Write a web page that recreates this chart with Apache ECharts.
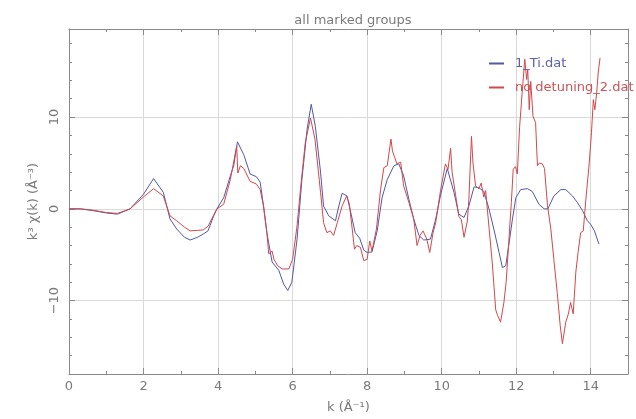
<!DOCTYPE html>
<html>
<head>
<meta charset="utf-8">
<script src="https://cdn.jsdelivr.net/npm/echarts@6/dist/echarts.min.js"></script>
<style>
  html, body { margin: 0; padding: 0; background: #fff; }
  #chart { width: 636px; height: 419px; }
</style>
</head>
<body>
<div id="chart"></div>
<script>
// k grid (1/Å) and k^3-weighted chi(k) for group 1_Ti.dat
const kTi = [
  0, 0.3, 0.65, 1.0, 1.3, 1.64, 2.0, 2.27, 2.53, 2.71,
  2.89, 3.1, 3.25, 3.45, 3.6, 3.73, 3.88, 3.97, 4.15, 4.33,
  4.42, 4.52, 4.69, 4.86, 5.03, 5.13, 5.22, 5.31, 5.45, 5.63,
  5.76, 5.87, 5.98, 6.12, 6.25, 6.39, 6.5, 6.61, 6.75, 6.83,
  6.97, 7.15, 7.24, 7.33, 7.46, 7.55, 7.68, 7.8, 7.91, 8.0,
  8.13, 8.27, 8.4, 8.54, 8.72, 8.85, 8.98, 9.12, 9.25, 9.39,
  9.52, 9.7, 9.84, 9.97, 10.15, 10.33, 10.46, 10.6, 10.73, 10.87,
  11.0, 11.13, 11.27, 11.4, 11.54, 11.63, 11.72, 11.8, 11.9, 11.99,
  12.12, 12.3, 12.43, 12.61, 12.75, 12.85, 13.01, 13.2, 13.33, 13.51,
  13.64, 13.78, 13.91, 14.0, 14.1, 14.22
];
const chiTi = [
  0, 0, -0.2, -0.45, -0.58, 0, 1.6, 3.3, 1.8, -1.1,
  -2.2, -3.1, -3.4, -3.1, -2.75, -2.4, -0.8, 0, 1.2, 3.6,
  4.7, 7.3, 5.9, 3.8, 3.5, 2.9, 0.3, -2.6, -5.8, -6.7,
  -8.2, -8.9, -8.0, -3.3, 3.2, 8.7, 11.4, 9.0, 4.0, 0.3,
  -0.76, -1.3, 0.3, 1.7, 1.4, -0.2, -2.6, -3.2, -4.5, -4.75,
  -4.7, -2.4, 1.2, 3.2, 4.7, 4.9, 3.6, 1.05, -1.1, -2.9,
  -3.4, -3.3, -1.1, 1.5, 4.4, 1.8, -0.58, -0.94, 0.3, 2.4,
  2.3, 1.9, 0, -2.2, -4.75, -6.4, -6.2, -4.0, -1.1, 1.2,
  2.1, 2.2, 1.9, 0.5, 0, 0, 1.4, 2.1, 2.1, 1.4,
  0.7, -0.2, -1.3, -1.7, -2.4, -3.85
];

// k grid and k^3-weighted chi(k) for group no detuning_2.dat
const kDet = [
  0, 0.3, 0.65, 1.0, 1.3, 1.64, 2.0, 2.27, 2.53, 2.71,
  2.89, 3.1, 3.25, 3.45, 3.6, 3.73, 3.88, 3.97, 4.15, 4.33,
  4.5, 4.53, 4.6, 4.69, 4.86, 5.03, 5.13, 5.22, 5.31, 5.36,
  5.45, 5.5, 5.6, 5.72, 5.9, 6.0, 6.12, 6.21, 6.34, 6.48,
  6.6, 6.75, 6.83, 6.92, 7.01, 7.1, 7.2, 7.33, 7.45, 7.52,
  7.6, 7.66, 7.72, 7.82, 7.91, 8.0, 8.07, 8.13, 8.25, 8.36,
  8.45, 8.54, 8.64, 8.68, 8.8, 8.9, 8.98, 9.12, 9.25, 9.34,
  9.42, 9.5, 9.6, 9.68, 9.77, 9.84, 9.97, 10.1, 10.17, 10.24,
  10.28, 10.37, 10.46, 10.53, 10.6, 10.69, 10.73, 10.8, 10.84, 10.91,
  11.0, 11.06, 11.13, 11.18, 11.27, 11.36, 11.45, 11.5, 11.58, 11.67,
  11.73, 11.8, 11.87, 11.92, 11.98, 12.03, 12.09, 12.16, 12.23, 12.28,
  12.31, 12.35, 12.39, 12.45, 12.52, 12.57, 12.62, 12.7, 12.76, 12.84,
  12.93, 13.01, 13.1, 13.18, 13.24, 13.33, 13.4, 13.46, 13.53, 13.6,
  13.66, 13.73, 13.8, 13.87, 13.96, 14.02, 14.07, 14.11, 14.16, 14.2,
  14.25
];
const chiDet = [
  0, 0, -0.15, -0.4, -0.5, 0, 1.3, 2.2, 1.4, -0.76,
  -1.3, -2.0, -2.4, -2.35, -2.3, -1.9, -0.7, 0, 0.5, 3.2,
  6.85, 3.9, 4.7, 4.4, 3.0, 2.7, 2.1, 0.3, -2.6, -4.9,
  -4.6, -5.5, -6.2, -6.55, -6.55, -5.5, -1.85, 2.1, 7.2, 9.9,
  7.6, 1.8, -1.5, -2.6, -2.4, -2.9, -1.5, 0.33, 1.4, 0.6,
  -2.2, -4.4, -4.0, -4.2, -5.65, -5.5, -3.5, -4.6, -2.2, 2.1,
  4.5, 4.7, 7.6, 6.3, 4.9, 5.1, 2.5, 0.7, -1.1, -4.0,
  -2.9, -2.4, -3.3, -4.75, -2.6, -1.5, 2.0, 4.9, 4.3, 6.6,
  4.0, 1.6, -0.8, -1.2, -3.1, -1.3, 1.0, 7.9, 5.0, 2.5,
  2.2, 2.8, 1.3, 2.0, -2.0, -6.0, -11.0, -11.6, -12.35, -10.2,
  -8.0, -3.65, 0.7, 4.3, 4.6, 3.8, 8.85, 12.65, 16.3, 14.1,
  15.2, 10.8, 13.9, 10.1, 9.4, 4.7, 5.0, 4.9, 4.4, 0.35,
  -2.2, -5.5, -9.1, -12.7, -14.7, -12.35, -11.45, -10.2, -11.45, -6.9,
  -4.75, -2.6, -2.4, 1.05, 5.0, 8.3, 11.9, 10.8, 12.65, 14.8,
  16.45
];

const seriesNames = ['1_Ti.dat', 'no detuning_2.dat'];
const yMajorTicks = [-10, 0, 10];
const xMajorTicks = [0, 2, 4, 6, 8, 10, 12, 14];

const BLUE = '#5058a8';
const RED = '#d2484a';
const TEXT = '#7a7a7a';
const FRAME = '#8a8a8a';
const GRID = '#d9d9d9';
const FONT = 'DejaVu Sans';

const toPairs = (xs, ys) => xs.map((x, i) => [x, ys[i]]);

const Y_MIN = -18, Y_MAX = 19.6;

const frameLine = { show: true, onZero: false, lineStyle: { color: FRAME, width: 1 } };

// overlay axes that only carry the longer major ticks on the y frame
const majorTickAxisY = (position) => ({
  type: 'value', min: Y_MIN, max: Y_MAX, position: position,
  axisLine: { show: false, onZero: false },
  axisTick: { show: true, inside: true, length: 6, customValues: yMajorTicks,
              lineStyle: { color: FRAME, width: 1 } },
  axisLabel: { show: false },
  splitLine: { show: false }
});

const chart = echarts.init(document.getElementById('chart'), null, { renderer: 'canvas' });
chart.setOption({
  animation: false,
  backgroundColor: '#fff',
  title: {
    text: 'all marked groups',
    left: 348, top: 9, textAlign: 'center',
    textStyle: { color: TEXT, fontFamily: FONT, fontSize: 13, fontWeight: 'normal' }
  },
  legend: {
    orient: 'vertical',
    left: 488, top: 57,
    padding: 0,
    itemGap: 11,
    itemWidth: 15, itemHeight: 14,
    // plain line keys, no point marker
    itemStyle: { opacity: 0 },
    data: [
      { name: seriesNames[0], lineStyle: { color: BLUE }, textStyle: { color: '#5a62a6' } },
      { name: seriesNames[1], lineStyle: { color: RED }, textStyle: { color: '#cc5456' } }
    ],
    textStyle: { fontFamily: FONT, fontSize: 13, padding: [0, 0, 0, 6] }
  },
  grid: {
    left: 69, right: 8, top: 29, bottom: 44,
    show: false
  },
  xAxis: [
    {
      type: 'value', min: 0, max: 15, interval: 2, position: 'bottom',
      name: 'k (Å⁻¹)', nameLocation: 'middle', nameGap: 27,
      nameTextStyle: { color: TEXT, fontFamily: FONT, fontSize: 13 },
      axisLine: frameLine,
      axisTick: { show: true, inside: true, length: 6, lineStyle: { color: FRAME } },
      minorTick: { show: true, splitNumber: 2, length: 3, lineStyle: { color: FRAME } },
      axisLabel: {
        color: TEXT, fontFamily: FONT, fontSize: 13, margin: 6,
        formatter: v => (xMajorTicks.indexOf(v) >= 0 ? String(v) : '')
      },
      splitLine: { show: true, lineStyle: { color: GRID, width: 1 } }
    },
    {
      type: 'value', min: 0, max: 15, interval: 2, position: 'top',
      axisLine: frameLine,
      axisTick: { show: true, inside: true, length: 6, lineStyle: { color: FRAME } },
      minorTick: { show: true, splitNumber: 2, length: 3, lineStyle: { color: FRAME } },
      axisLabel: { show: false },
      splitLine: { show: false }
    }
  ],
  yAxis: [
    {
      type: 'value', min: Y_MIN, max: Y_MAX, interval: 2, position: 'left',
      name: 'k³ χ(k) (Å⁻³)', nameLocation: 'middle', nameGap: 28, nameRotate: 90,
      nameTextStyle: { color: TEXT, fontFamily: FONT, fontSize: 13 },
      axisLine: frameLine,
      axisTick: { show: true, inside: true, length: 3, lineStyle: { color: FRAME } },
      axisLabel: {
        color: TEXT, fontFamily: FONT, fontSize: 13, rotate: 90, margin: 8,
        formatter: v => (yMajorTicks.indexOf(v) >= 0 ? (v < 0 ? '\u2212' + Math.abs(v) : String(v)) : '')
      },
      splitLine: {
        show: true,
        // grid lines only at every fifth tick (-10, 0, 10)
        lineStyle: { color: ['transparent', 'transparent', 'transparent', 'transparent', GRID], width: 1 }
      }
    },
    {
      type: 'value', min: Y_MIN, max: Y_MAX, interval: 2, position: 'right',
      axisLine: frameLine,
      axisTick: { show: true, inside: true, length: 3, lineStyle: { color: FRAME } },
      axisLabel: { show: false },
      splitLine: { show: false }
    },
    majorTickAxisY('left'),
    majorTickAxisY('right')
  ],
  series: [
    {
      name: seriesNames[0], type: 'line', xAxisIndex: 0, yAxisIndex: 0,
      data: toPairs(kTi, chiTi), showSymbol: false, symbol: 'none',
      itemStyle: { color: BLUE }, lineStyle: { color: BLUE, width: 1 }, z: 2
    },
    {
      name: seriesNames[1], type: 'line', xAxisIndex: 0, yAxisIndex: 0,
      data: toPairs(kDet, chiDet), showSymbol: false, symbol: 'none',
      itemStyle: { color: RED }, lineStyle: { color: RED, width: 1 }, z: 3
    }
  ]
});
</script>
</body>
</html>
